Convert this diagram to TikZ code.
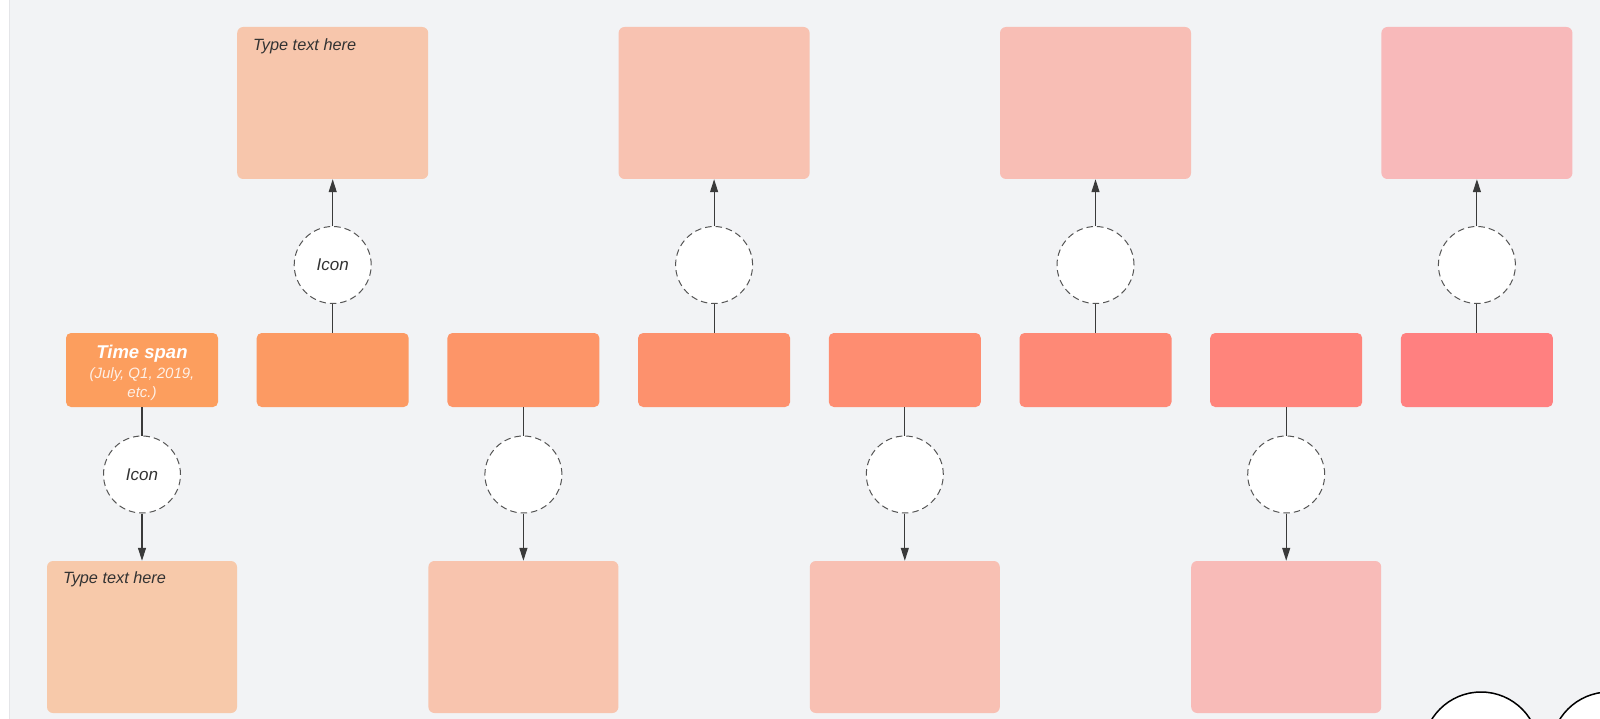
\documentclass[tikz,border=0pt]{standalone}
\usepackage{fontspec}
\setmainfont{Liberation Sans}
\usetikzlibrary{arrows.meta,calc}
\definecolor{bgc}{RGB}{242,243,245}
\definecolor{edgec}{RGB}{228,229,232}
\definecolor{m0}{RGB}{252,158,94}
\definecolor{m1}{RGB}{252,154,99}
\definecolor{m2}{RGB}{253,149,104}
\definecolor{m3}{RGB}{253,145,109}
\definecolor{m4}{RGB}{254,141,113}
\definecolor{m5}{RGB}{254,137,118}
\definecolor{m6}{RGB}{255,132,123}
\definecolor{m7}{RGB}{255,128,128}
\colorlet{l0}{m0!50!bgc}
\colorlet{l1}{m1!50!bgc}
\colorlet{l2}{m2!50!bgc}
\colorlet{l3}{m3!50!bgc}
\colorlet{l4}{m4!50!bgc}
\colorlet{l5}{m5!50!bgc}
\colorlet{l6}{m6!50!bgc}
\colorlet{l7}{m7!50!bgc}
\definecolor{lnc}{RGB}{58,58,58}
\definecolor{dashc}{RGB}{85,85,85}
\definecolor{txt}{RGB}{51,51,51}
\tikzset{
  midbox/.style={rounded corners=5pt, minimum width=152pt, minimum height=74pt, inner sep=0pt, draw=none},
  bigbox/.style={rounded corners=6pt, minimum width=191pt, minimum height=152pt, inner sep=0pt, draw=none},
  iconc/.style={circle, minimum size=77pt, inner sep=0pt, fill=white, draw=dashc, line width=1pt,
    dash pattern=on 6.5pt off 4pt, font=\fontsize{17}{20}\selectfont\itshape, text=txt},
  link/.style={draw=lnc, line width=1.1pt},
  arr/.style={link, -{Triangle[width=8pt,length=13pt]}},
  hint/.style={anchor=base west, inner sep=0pt, font=\fontsize{16.3}{19}\selectfont\itshape, text=txt},
  bigcirc/.style={draw=black, line width=1.5pt, fill=white},
  spantext/.style={font=\fontsize{15}{18.5}\selectfont\itshape, align=center, text=white},
}
\begin{document}
\begin{tikzpicture}[x=1pt,y=-1pt]
\useasboundingbox (0,0) rectangle (1600,719);
\fill[white] (0,0) rectangle (1600,719);
\fill[bgc] (9,0) rectangle (1600,719);
\draw[edgec, line width=1pt] (9.5,0) -- (9.5,719);

% middle row
\node[midbox, fill=m0] (ts) at (142,370) {};
\node[spantext] (tstext) at (142,372.5)
  {{\fontsize{18.5}{20}\selectfont\bfseries Time span}\\[2pt]
   {\color{white!85!m0}(July, Q1, 2019,}\\
   {\color{white!85!m0}etc.)}};
\node[midbox, fill=m1] (m1) at (332.7,370) {};
\node[midbox, fill=m2] (m2) at (523.4,370) {};
\node[midbox, fill=m3] (m3) at (714.1,370) {};
\node[midbox, fill=m4] (m4) at (904.8,370) {};
\node[midbox, fill=m5] (m5) at (1095.5,370) {};
\node[midbox, fill=m6] (m6) at (1286.2,370) {};
\node[midbox, fill=m7] (m7) at (1476.9,370) {};

% top boxes
\node[bigbox, fill=l1] (t1) at (332.7,103) {};
\node[bigbox, fill=l3] (t3) at (714.1,103) {};
\node[bigbox, fill=l5] (t5) at (1095.5,103) {};
\node[bigbox, fill=l7] (t7) at (1476.9,103) {};

% bottom boxes
\node[bigbox, fill=l0, minimum width=190pt] (b0) at (142,637) {};
\node[bigbox, fill=l2, minimum width=190pt] (b2) at (523.4,637) {};
\node[bigbox, fill=l4, minimum width=190pt] (b4) at (904.8,637) {};
\node[bigbox, fill=l6, minimum width=190pt] (b6) at (1286.2,637) {};

\node[hint] (tt1) at ($(t1.north west)+(16,24)$) {Type text here};
\node[hint] (tb0) at ($(b0.north west)+(16,23)$) {Type text here};

% icon circles
\node[iconc] (c1) at (332.7,265) {Icon};
\node[iconc] (c3) at (714.1,265) {};
\node[iconc] (c5) at (1095.5,265) {};
\node[iconc] (c7) at (1476.9,265) {};
\node[iconc] (c0) at (142,474.5) {Icon};
\node[iconc] (c2) at (523.4,474.5) {};
\node[iconc] (c4) at (904.8,474.5) {};
\node[iconc] (c6) at (1286.2,474.5) {};

% connectors
\foreach \i in {1,3,5,7} {
  \draw[link] (m\i.north) -- (c\i.south);
  \draw[arr] (c\i.north) -- (t\i.south);
}
\draw[link] (ts.south) -- (c0.north);
\draw[arr] (c0.south) -- (b0.north);
\foreach \i in {2,4,6} {
  \draw[link] (m\i.south) -- (c\i.north);
  \draw[arr] (c\i.south) -- (b\i.north);
}

% partial circles at bottom right
\begin{scope}
  \clip (0,0) rectangle (1600,719);
  \draw[bigcirc] (1481,750) circle[radius=58pt];
  \draw[bigcirc] (1609,750) circle[radius=58pt];
\end{scope}
\end{tikzpicture}
\end{document}
